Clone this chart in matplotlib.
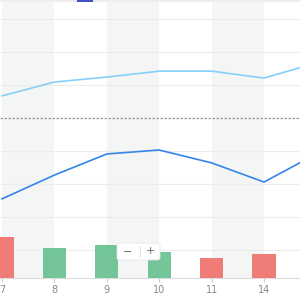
import matplotlib.pyplot as plt
from matplotlib.patches import FancyBboxPatch, Rectangle

# category labels (trading days) and series
days = ["7", "8", "9", "10", "11", "14", "15"]
upper_line = [5.67, 6.09, 6.24, 6.42, 6.42, 6.21, 6.67]
lower_line = [2.55, 3.27, 3.91, 4.03, 3.64, 3.06, 3.91]
volume = [4.1, 3.0, 3.3, 2.6, 2.0, 2.4, 2.8]
volume_up = [False, True, True, True, False, False, False]

RED = "#f07571"
GREEN = "#6cc393"
LIGHT_BLUE = "#86cff9"
DARK_BLUE = "#3584ec"
GRID = "#ececec"
BAND = "#f4f6f6"

fig = plt.figure(figsize=(3, 3), dpi=100)
ax = fig.add_axes([0, 22 / 300, 1, 278 / 300])
xs = list(range(len(days)))

# alternating column bands between categories
for i in range(0, len(days) - 1, 2):
    ax.axvspan(i, i + 1, color=BAND, lw=0, zorder=0)

for y in [1, 2, 3, 4, 6, 7, 8]:
    ax.axhline(y, color=GRID, lw=0.8, zorder=1)
ax.axhline(5, color="#999999", lw=0.9, ls=(0, (2, 1.2)), zorder=1)

ax.plot(xs, upper_line, color=LIGHT_BLUE, lw=1.2, zorder=4)
ax.plot(xs, lower_line, color=DARK_BLUE, lw=1.2, zorder=4)

# volume bars on their own scale, sharing the baseline
vax = ax.twinx()
vax.set_ylim(0, 27.8)
colors = [GREEN if up else RED for up in volume_up]
vax.bar(xs, volume, width=0.44, color=colors, alpha=0.95, zorder=3)
vax.axis("off")

for s in ["top", "left", "right"]:
    ax.spines[s].set_visible(False)
ax.spines["bottom"].set_color("#dddddd")
ax.spines["bottom"].set_linewidth(0.8)
ax.set_yticks([])
ax.set_xticks(xs)
ax.set_xticklabels(days)
ax.tick_params(axis="x", colors="#cccccc", length=3, width=0.8, labelcolor="#888888",
               labelsize=7, pad=2)

# window is cropped: last category sits just past the right edge
ax.set_xlim(-2 / 52.4, 298 / 52.4)
ax.set_ylim(5 / 33, 283 / 33)

# zoom control box
box = FancyBboxPatch((117 / 300, 40 / 300), 43 / 300, 17 / 300,
                     boxstyle="round,pad=0,rounding_size=0.008",
                     transform=fig.transFigure, facecolor="white", edgecolor="#e6e6e6",
                     lw=0.6, zorder=10)
fig.patches.append(box)
fig.lines.append(plt.Line2D([140 / 300, 140 / 300], [43 / 300, 54 / 300],
                            transform=fig.transFigure, color="#dddddd", lw=0.6, zorder=11))
fig.text(128 / 300, 48.5 / 300, "−", ha="center", va="center", fontsize=8, color="#666666", zorder=12)
fig.text(150 / 300, 48.5 / 300, "+", ha="center", va="center", fontsize=8, color="#666666", zorder=12)

# cut-off legend strip at the top
fig.patches.append(Rectangle((0, 298 / 300), 1, 2 / 300, transform=fig.transFigure,
                             facecolor="#eeeeee", lw=0, zorder=9))
fig.patches.append(Rectangle((77 / 300, 298 / 300), 16 / 300, 2 / 300, transform=fig.transFigure,
                             facecolor="#3f51c5", lw=0, zorder=10))

fig.savefig("out.png", dpi=100)
